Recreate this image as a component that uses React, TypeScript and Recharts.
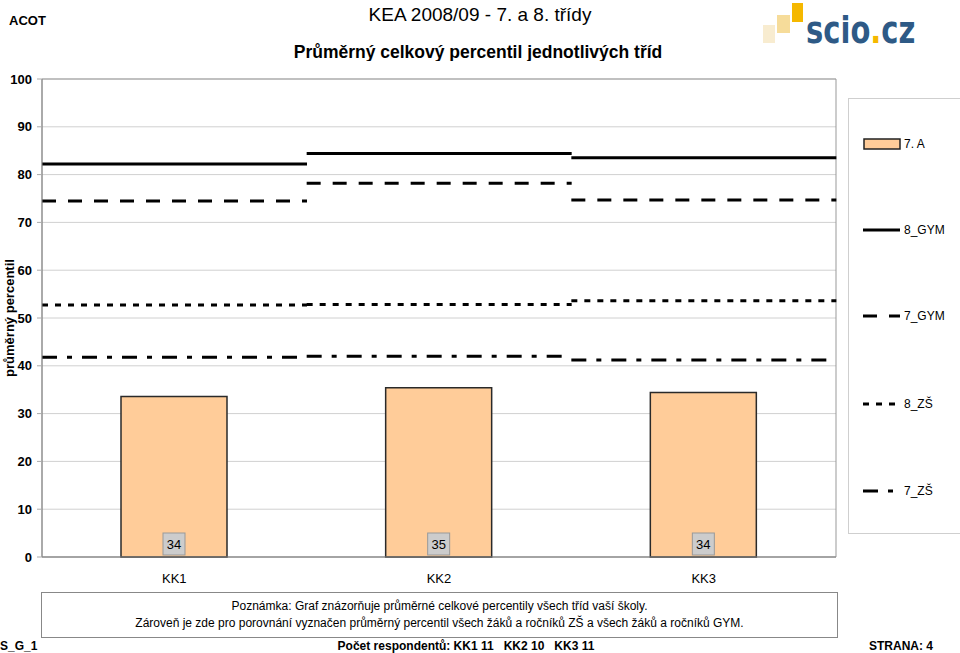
import React from 'react';
import {
  ComposedChart,
  Bar,
  XAxis,
  YAxis,
  CartesianGrid,
  ReferenceArea,
  LabelList,
} from 'recharts';

const CATEGORIES = ['KK1', 'KK2', 'KK3'];
const CLASS_7A = [33.6, 35.4, 34.4];
const GYM_8 = [82.2, 84.4, 83.5];
const GYM_7 = [74.5, 78.2, 74.7];
const ZS_8 = [52.7, 52.8, 53.6];
const ZS_7 = [41.8, 42.0, 41.2];
const RESPONDENTS = [11, 10, 11];
const Y_TICKS = [0, 10, 20, 30, 40, 50, 60, 70, 80, 90, 100];

const FONT = '"Liberation Sans", Arial, sans-serif';
const BAR_FILL = '#ffcc99';

// reference lines per class, drawn as flat segments across each category band
const LINE_SERIES = [
  { key: 'gym8', name: '8_GYM', values: GYM_8, dash: undefined as string | undefined },
  { key: 'gym7', name: '7_GYM', values: GYM_7, dash: '14 12' },
  { key: 'zs8', name: '8_ZŠ', values: ZS_8, dash: '6 7' },
  { key: 'zs7', name: '7_ZŠ', values: ZS_7, dash: '15 10 5 10' },
];

const data = CATEGORIES.map((cat, i) => ({
  cat,
  cls: CLASS_7A[i],
  gym8: GYM_8[i],
  gym7: GYM_7[i],
  zs8: ZS_8[i],
  zs7: ZS_7[i],
}));

function segmentShape(dash?: string) {
  return (props: any) => {
    const { x, y, width } = props;
    return (
      <line
        x1={x}
        x2={x + width}
        y1={y}
        y2={y}
        stroke="#000"
        strokeWidth={3}
        strokeDasharray={dash}
      />
    );
  };
}

function ValueBox(props: any) {
  const { x, y, width, height, value } = props;
  const cx = x + width / 2;
  const bottom = y + height;
  return (
    <g>
      <rect x={cx - 11} y={bottom - 24} width={22} height={22} fill="#cccccc" stroke="#999" />
      <text
        x={cx}
        y={bottom - 13}
        textAnchor="middle"
        dominantBaseline="central"
        fontSize={13}
        fontFamily={FONT}
        fill="#000"
      >
        {Math.round(value)}
      </text>
    </g>
  );
}

function CategoryTick(props: any) {
  const { x, y, payload } = props;
  return (
    <text x={x} y={y} dy={18} textAnchor="middle" fontSize={13} fontFamily={FONT} fill="#000">
      {payload.value}
    </text>
  );
}

function Legend() {
  const rows = [144, 230, 316, 404, 491];
  return (
    <div
      style={{
        position: 'absolute',
        left: 848,
        top: 98,
        width: 112,
        height: 436,
        borderTop: '1px solid #cfcfcf',
        borderLeft: '1px solid #cfcfcf',
        borderBottom: '1px solid #cfcfcf',
        boxSizing: 'border-box',
      }}
    >
      <svg width={112} height={436} style={{ position: 'absolute', left: -1, top: -1 }}>
        <rect x={16} y={rows[0] - 98 - 5} width={36} height={10} fill={BAR_FILL} stroke="#222" strokeWidth={1.5} />
        <text x={56} y={rows[0] - 98} dominantBaseline="central" fontSize={12} fontFamily={FONT}>
          7. A
        </text>
        {LINE_SERIES.map((s, i) => {
          const cy = rows[i + 1] - 98;
          return (
            <g key={s.key}>
              <line x1={15} x2={52} y1={cy} y2={cy} stroke="#000" strokeWidth={3} strokeDasharray={s.dash} />
              <text x={56} y={cy} dominantBaseline="central" fontSize={12} fontFamily={FONT}>
                {s.name}
              </text>
            </g>
          );
        })}
      </svg>
    </div>
  );
}

function Logo() {
  return (
    <svg width={190} height={64} style={{ position: 'absolute', left: 750, top: 0 }}>
      <rect x={13} y={25} width={12} height={18} fill="#f8ecd0" />
      <rect x={27} y={15} width={13} height={18} fill="#f6dc9a" />
      <rect x={42} y={3} width={11} height={19} fill="#f5b800" />
      <g transform="translate(56 43) scale(1 1.3)">
        <text x={0} y={0} fontSize={29} fontWeight="bold" fontFamily='"DejaVu Sans", sans-serif' fill="#2e5a86">
          scio<tspan fill="#f5b800">.</tspan>cz
        </text>
      </g>
    </svg>
  );
}

export default function App() {
  return (
    <div
      style={{
        position: 'fixed',
        left: 0,
        top: 0,
        width: 960,
        height: 653,
        overflow: 'hidden',
        background: '#fff',
        fontFamily: FONT,
        color: '#000',
      }}
    >
      <div style={{ position: 'absolute', left: 9, top: 13, fontSize: 13, fontWeight: 'bold' }}>ACOT</div>
      <div style={{ position: 'absolute', left: 0, width: 960, top: 4, textAlign: 'center', fontSize: 19 }}>
        KEA 2008/09 - 7. a 8. třídy
      </div>
      <Logo />
      <div
        style={{
          position: 'absolute',
          left: 0,
          width: 956,
          top: 42,
          height: 19,
          overflow: 'hidden',
          textAlign: 'center',
          fontSize: 17.5,
          fontWeight: 'bold',
        }}
      >
        Průměrný celkový percentil jednotlivých tříd
      </div>

      <div style={{ position: 'absolute', left: 0, top: 0 }}>
        <ComposedChart
          width={960}
          height={600}
          data={data}
          margin={{ top: 79, right: 124, bottom: 13, left: 0 }}
          barCategoryGap={0}
          barGap={0}
        >
          <CartesianGrid vertical={false} stroke="#d0d0d0" xAxisId="main" />
          <XAxis
            xAxisId="main"
            dataKey="cat"
            height={30}
            interval={0}
            tickLine={false}
            axisLine={{ stroke: '#888' }}
            tick={<CategoryTick />}
          />
          {LINE_SERIES.map((s) => (
            <XAxis key={s.key} xAxisId={s.key} dataKey="cat" height={0} orientation="top" hide />
          ))}
          <YAxis
            width={42}
            domain={[0, 100]}
            ticks={Y_TICKS}
            interval={0}
            axisLine={{ stroke: '#888' }}
            tickLine={{ stroke: '#aaa' }}
            tickSize={5}
            tickMargin={5}
            tick={{ fontSize: 13, fontWeight: 'bold', fill: '#000', fontFamily: FONT }}
            label={{
              value: 'průměrný percentil',
              angle: -90,
              position: 'insideLeft',
              offset: 9,
              style: { fontSize: 13, fontWeight: 'bold', fill: '#000', fontFamily: FONT, textAnchor: 'middle' },
            }}
          />
          <ReferenceArea xAxisId="main" y1={0} y2={100} fill="none" stroke="#999" />
          <Bar
            xAxisId="main"
            dataKey="cls"
            name="7. A"
            barSize={106}
            fill={BAR_FILL}
            stroke="#2a2a2a"
            strokeWidth={1.5}
            isAnimationActive={false}
          >
            <LabelList dataKey="cls" content={ValueBox} />
          </Bar>
          {LINE_SERIES.map((s) => (
            <Bar
              key={s.key}
              xAxisId={s.key}
              dataKey={s.key}
              name={s.name}
              shape={segmentShape(s.dash)}
              isAnimationActive={false}
            />
          ))}
        </ComposedChart>
      </div>

      <Legend />

      <div
        style={{
          position: 'absolute',
          left: 41,
          top: 592,
          width: 797,
          height: 46,
          border: '1px solid #888',
          boxSizing: 'border-box',
          textAlign: 'center',
          fontSize: 12,
          lineHeight: '17px',
          paddingTop: 5,
        }}
      >
        <div>Poznámka: Graf znázorňuje průměrné celkové percentily všech tříd vaší školy.</div>
        <div>Zároveň je zde pro porovnání vyznačen průměrný percentil všech žáků a ročníků ZŠ a všech žáků a ročníků GYM.</div>
      </div>
      <div style={{ position: 'absolute', left: 0, top: 639, fontSize: 12, fontWeight: 'bold' }}>S_G_1</div>
      <div
        style={{
          position: 'absolute',
          left: 0,
          width: 932,
          top: 639,
          textAlign: 'center',
          fontSize: 12,
          fontWeight: 'bold',
          whiteSpace: 'pre',
        }}
      >
        {'Počet respondentů: ' + CATEGORIES.map((c, i) => `${c} ${RESPONDENTS[i]}`).join('   ')}
      </div>
      <div style={{ position: 'absolute', right: 27, top: 639, fontSize: 12, fontWeight: 'bold' }}>STRANA: 4</div>
    </div>
  );
}
